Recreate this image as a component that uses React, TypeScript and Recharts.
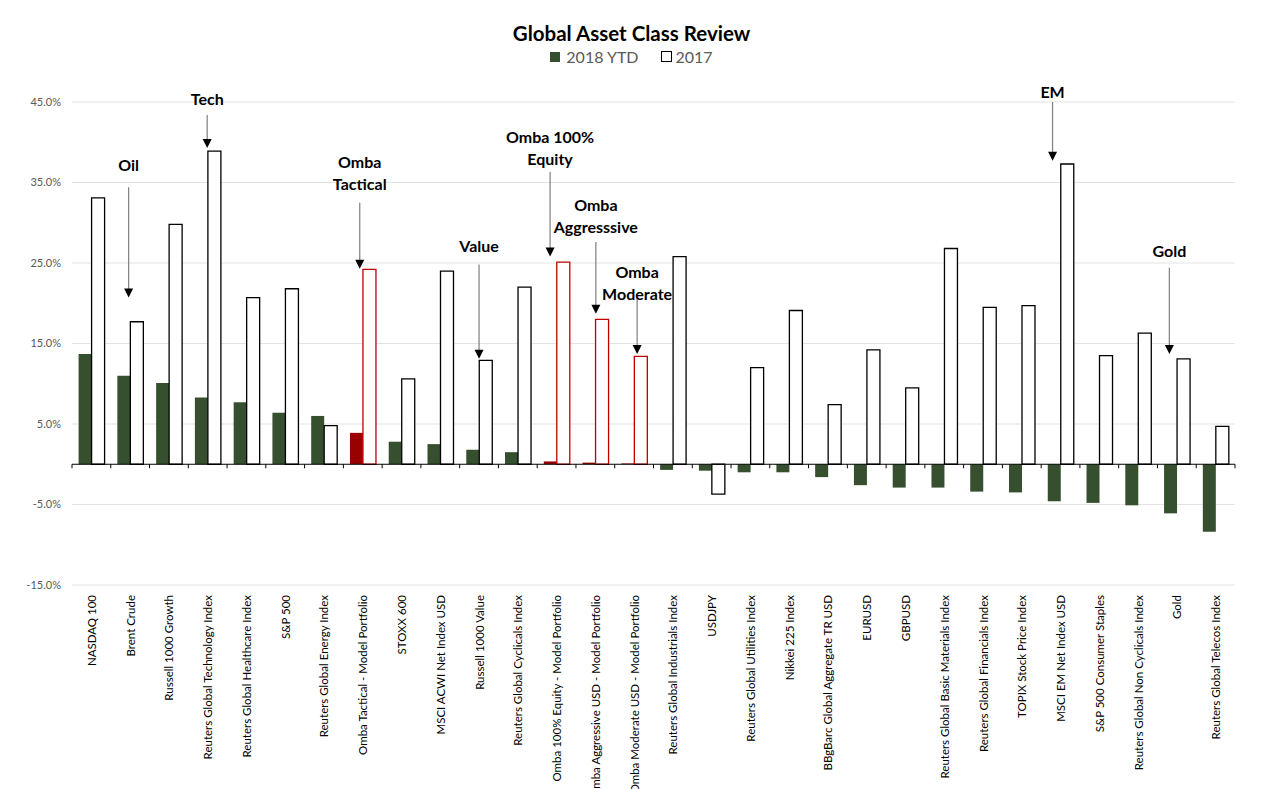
import { BarChart, Bar, XAxis, YAxis, CartesianGrid, ReferenceLine, Cell } from "recharts";

const categories = [
  "NASDAQ 100",
  "Brent Crude",
  "Russell 1000 Growth",
  "Reuters Global Technology Index",
  "Reuters Global Healthcare Index",
  "S&P 500",
  "Reuters Global Energy Index",
  "Omba Tactical - Model Portfolio",
  "STOXX 600",
  "MSCI ACWI Net Index USD",
  "Russell 1000 Value",
  "Reuters Global Cyclicals Index",
  "Omba 100% Equity - Model Portfolio",
  "Omba Aggressive USD - Model Portfolio",
  "Omba Moderate USD - Model Portfolio",
  "Reuters Global Industrials Index",
  "USDJPY",
  "Reuters Global Utilities Index",
  "Nikkei 225 Index",
  "BBgBarc Global Aggregate TR USD",
  "EURUSD",
  "GBPUSD",
  "Reuters Global Basic Materials Index",
  "Reuters Global Financials Index",
  "TOPIX Stock Price Index",
  "MSCI EM Net Index USD",
  "S&P 500 Consumer Staples",
  "Reuters Global Non Cyclicals Index",
  "Gold",
  "Reuters Global Telecos Index",
];

const ytd2018 = [
  13.7, 11.0, 10.1, 8.3, 7.7, 6.4, 6.0, 3.9, 2.8, 2.5, 1.8, 1.5, 0.35, 0.2, 0.1,
  -0.7, -0.8, -1.0, -1.0, -1.6, -2.6, -2.9, -2.9, -3.4, -3.5, -4.6, -4.8, -5.1, -6.1, -8.4,
];

const full2017 = [
  33.1, 17.7, 29.8, 38.9, 20.7, 21.8, 4.8, 24.2, 10.6, 24.0, 12.9, 22.0, 25.1, 18.0, 13.4,
  25.8, -3.7, 12.0, 19.1, 7.4, 14.2, 9.5, 26.8, 19.5, 19.7, 37.3, 13.5, 16.3, 13.1, 4.7,
];

const yTicks = [-15, -5, 5, 15, 25, 35, 45];

// callouts: text rows, where the first row sits, and the arrow from/to (in % units)
const callouts = [
  { category: "Brent Crude", text: ["Oil"], labelAt: 37.2, from: 34.4, to: 20.7, dx: -1.5 },
  { category: "Reuters Global Technology Index", text: ["Tech"], labelAt: 45.4, from: 43.4, to: 39.3, dx: -0.5 },
  { category: "Omba Tactical - Model Portfolio", text: ["Omba", "Tactical"], labelAt: 37.6, from: 32.5, to: 24.3, dx: -3 },
  { category: "Russell 1000 Value", text: ["Value"], labelAt: 27.2, from: 24.8, to: 13.1, dx: 0 },
  { category: "Omba 100% Equity - Model Portfolio", text: ["Omba 100%", "Equity"], labelAt: 40.7, from: 36.3, to: 25.8, dx: -6.5 },
  { category: "Omba Aggressive USD - Model Portfolio", text: ["Omba", "Aggresssive"], labelAt: 32.3, from: 27.6, to: 18.7, dx: 0.5 },
  { category: "Omba Moderate USD - Model Portfolio", text: ["Omba", "Moderate"], labelAt: 24.0, from: 20.7, to: 13.7, dx: 3 },
  { category: "MSCI EM Net Index USD", text: ["EM"], labelAt: 46.3, from: 45.0, to: 37.7, dx: -8 },
  { category: "Gold", text: ["Gold"], labelAt: 26.5, from: 24.4, to: 13.7, dx: -7.5 },
];

const GREEN = "#36502f";
const DARK_RED = "#9b0000";
const RED = "#c00000";

const isOmba = (name: string) => name.startsWith("Omba");

const data = categories.map((name, i) => ({
  name,
  ytd: ytd2018[i],
  prev: full2017[i],
}));

function CategoryTick({ x, y, payload }: any) {
  return (
    <text
      x={x}
      y={y}
      transform={`rotate(-90, ${x}, ${y})`}
      textAnchor="end"
      dominantBaseline="central"
      fontSize={11.5}
      fill="#000"
    >
      {payload.value}
    </text>
  );
}

function ZeroAxis({ x1, x2, y1 }: any) {
  const step = (x2 - x1) / categories.length;
  return (
    <g>
      <line x1={x1} x2={x2} y1={y1} y2={y1} stroke="#000" strokeWidth={1} />
      {Array.from({ length: categories.length + 1 }, (_, i) => (
        <line
          key={i}
          x1={x1 + i * step}
          x2={x1 + i * step}
          y1={y1}
          y2={y1 + 4}
          stroke="#000"
          strokeWidth={1}
        />
      ))}
    </g>
  );
}

function Callout({ x1, y1, y2, c }: any) {
  const x = x1 + c.dx;
  const pxPerUnit = (y2 - y1) / (c.to - c.from);
  const firstRow = y1 + (c.labelAt - c.from) * pxPerUnit;
  return (
    <g>
      <line x1={x} x2={x} y1={y1} y2={y2 - 8} stroke="#7f7f7f" strokeWidth={1.2} />
      <polygon points={`${x - 4.5},${y2 - 9} ${x + 4.5},${y2 - 9} ${x},${y2}`} fill="#000" />
      {c.text.map((t: string, i: number) => (
        <text
          key={t}
          x={x}
          y={firstRow + i * 22}
          textAnchor="middle"
          dominantBaseline="central"
          fontSize={16}
          fontWeight="bold"
          fill="#000"
        >
          {t}
        </text>
      ))}
    </g>
  );
}

export default function App() {
  return (
    <div style={{ position: "relative", width: 1247, height: 781, fontFamily: "Lato, sans-serif" }}>
      <style>{"html,body{overflow:hidden}"}</style>
      <div
        style={{
          position: "absolute",
          top: 13,
          left: 0,
          width: "100%",
          textAlign: "center",
          fontSize: 20.5,
          fontWeight: "bold",
          color: "#000",
        }}
      >
        Global Asset Class Review
      </div>
      <div
        style={{
          position: "absolute",
          top: 39,
          left: 0,
          width: "100%",
          display: "flex",
          justifyContent: "center",
          alignItems: "center",
          fontSize: 16,
          color: "#595959",
          gap: 22,
        }}
      >
        <span style={{ display: "flex", alignItems: "center", gap: 6 }}>
          <span style={{ width: 10, height: 10, background: GREEN, display: "inline-block" }} />
          2018 YTD
        </span>
        <span style={{ display: "flex", alignItems: "center", gap: 4 }}>
          <span
            style={{
              width: 9,
              height: 9,
              background: "#fff",
              border: "1px solid #000",
              display: "inline-block",
            }}
          />
          2017
        </span>
      </div>
      <BarChart
        width={1247}
        height={781}
        data={data}
        margin={{ top: 94, right: 20, bottom: 4, left: 4 }}
        barCategoryGap="17%"
        barGap={0}
      >
        <CartesianGrid vertical={false} stroke="#e3e3e3" />
        <XAxis
          dataKey="name"
          interval={0}
          height={200}
          axisLine={false}
          tickLine={false}
          tickSize={0}
          tickMargin={10}
          tick={<CategoryTick />}
        />
        <YAxis
          domain={[-15, 45]}
          ticks={yTicks}
          width={60}
          axisLine={false}
          tickLine={false}
          tickSize={0}
          tickMargin={11}
          tick={{ fontSize: 11, fill: "#595959" }}
          tickFormatter={(v: number) => `${v.toFixed(1)}%`}
        />
        <Bar dataKey="ytd" name="2018 YTD" isAnimationActive={false}>
          {data.map((d) => (
            <Cell key={d.name} fill={isOmba(d.name) ? DARK_RED : GREEN} />
          ))}
        </Bar>
        <Bar dataKey="prev" name="2017" isAnimationActive={false} fill="#fff" strokeWidth={1.3}>
          {data.map((d) => (
            <Cell key={d.name} fill="#fff" stroke={isOmba(d.name) ? RED : "#000"} />
          ))}
        </Bar>
        <ReferenceLine y={0} ifOverflow="visible" shape={(p: any) => <ZeroAxis {...p} />} />
        {callouts.map((c) => (
          <ReferenceLine
            key={c.category}
            ifOverflow="visible"
            segment={[
              { x: c.category, y: c.from },
              { x: c.category, y: c.to },
            ]}
            shape={(p: any) => <Callout {...p} c={c} />}
          />
        ))}
      </BarChart>
    </div>
  );
}
